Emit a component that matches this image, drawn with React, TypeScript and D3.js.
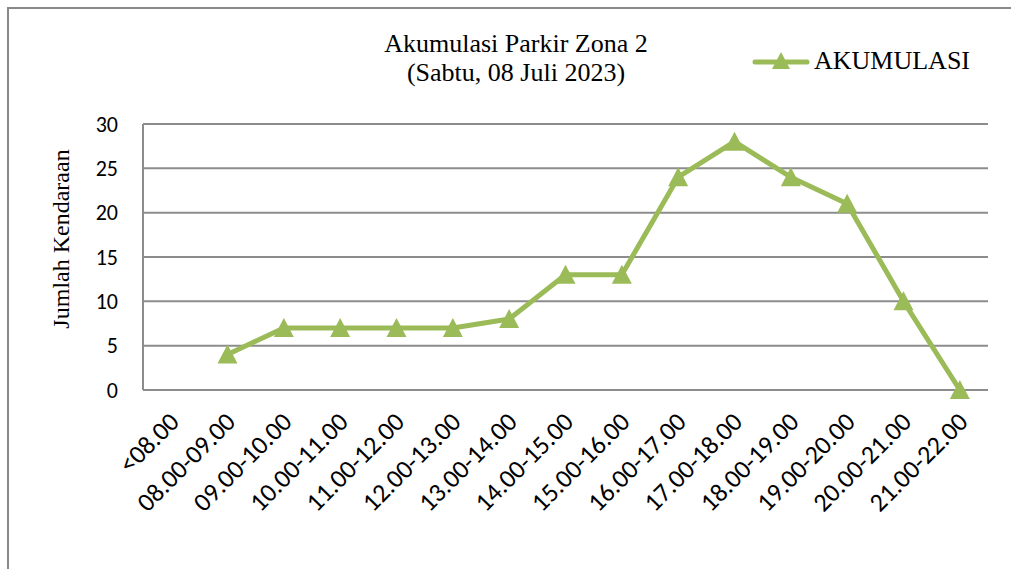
import React from "react";
import * as d3 from "d3";

const categories = ["<08.00","08.00-09.00","09.00-10.00","10.00-11.00","11.00-12.00","12.00-13.00","13.00-14.00","14.00-15.00","15.00-16.00","16.00-17.00","17.00-18.00","18.00-19.00","19.00-20.00","20.00-21.00","21.00-22.00"];
const values: (number | null)[] = [null, 4, 7, 7, 7, 7, 8, 13, 13, 24, 28, 24, 21, 10, 0];
const yTicks = [0, 5, 10, 15, 20, 25, 30];
const titleLines = ["Akumulasi Parkir Zona 2", "(Sabtu, 08 Juli 2023)"];
const seriesName = "AKUMULASI";
const yTitle = "Jumlah Kendaraan";

const W = 1011, H = 569;
const plot = { left: 143, right: 988, top: 124, bottom: 390 };
const green = "#9BBB59";
const grid = "#8c8c8c";
const serif = "'Liberation Serif', 'Times New Roman', serif";
const sans = "Carlito, 'Liberation Sans', Arial, sans-serif";

function tri(cx: number, cy: number, s = 10) {
  return `M${cx},${cy - s} L${cx + s},${cy + s * 0.9} L${cx - s},${cy + s * 0.9} Z`;
}

export default function App() {
  const x = d3.scaleBand<string>().domain(categories).range([plot.left, plot.right]);
  const y = d3.scaleLinear().domain([0, 30]).range([plot.bottom, plot.top]);
  const pts = categories
    .map((c, i) => ({ c, v: values[i] }))
    .filter((d) => d.v !== null) as { c: string; v: number }[];
  const line = d3
    .line<{ c: string; v: number }>()
    .x((d) => (x(d.c) as number) + x.bandwidth() / 2)
    .y((d) => y(d.v));

  return (
    <svg width={W} height={H} style={{ position: "absolute", left: 0, top: 0 }}>
      <rect x={0} y={0} width={W} height={H} fill="#fff" />
      <rect x={8} y={8} width={W + 20} height={H + 20} fill="none" stroke="#888" strokeWidth={2} />
      {yTicks.map((t) => (
        <g key={t}>
          <line x1={plot.left} x2={plot.right} y1={y(t)} y2={y(t)} stroke={grid} strokeWidth={2} />
          <text x={118} y={y(t)} dy="0.35em" textAnchor="end" fontFamily={sans} fontSize={22} fill="#000">{t}</text>
        </g>
      ))}
      <line x1={plot.left} x2={plot.left} y1={plot.top} y2={plot.bottom} stroke={grid} strokeWidth={2} />
      {categories.map((c) => {
        const cx = (x(c) as number) + x.bandwidth() / 2;
        return (
          <text key={c} transform={`translate(${cx + 3},${plot.bottom + 27}) rotate(-45)`} textAnchor="end" dy="0.35em" fontFamily={sans} fontSize={26} fill="#000">{c}</text>
        );
      })}
      <path d={line(pts) as string} fill="none" stroke={green} strokeWidth={5} strokeLinejoin="round" />
      {pts.map((d) => (
        <path key={d.c} d={tri((x(d.c) as number) + x.bandwidth() / 2, y(d.v))} fill={green} />
      ))}
      <text transform={`translate(69,239) rotate(-90)`} textAnchor="middle" fontFamily={serif} fontSize={24} fill="#000">{yTitle}</text>
      {titleLines.map((t, i) => (
        <text key={t} x={516} y={52 + i * 29} textAnchor="middle" fontFamily={serif} fontSize={26} fill="#000">{t}</text>
      ))}
      <line x1={755} x2={807} y1={62} y2={62} stroke={green} strokeWidth={5} strokeLinecap="round" />
      <path d={tri(781, 61, 9)} fill={green} />
      <text x={814} y={69} fontFamily={serif} fontSize={26} fill="#000">{seriesName}</text>
    </svg>
  );
}
